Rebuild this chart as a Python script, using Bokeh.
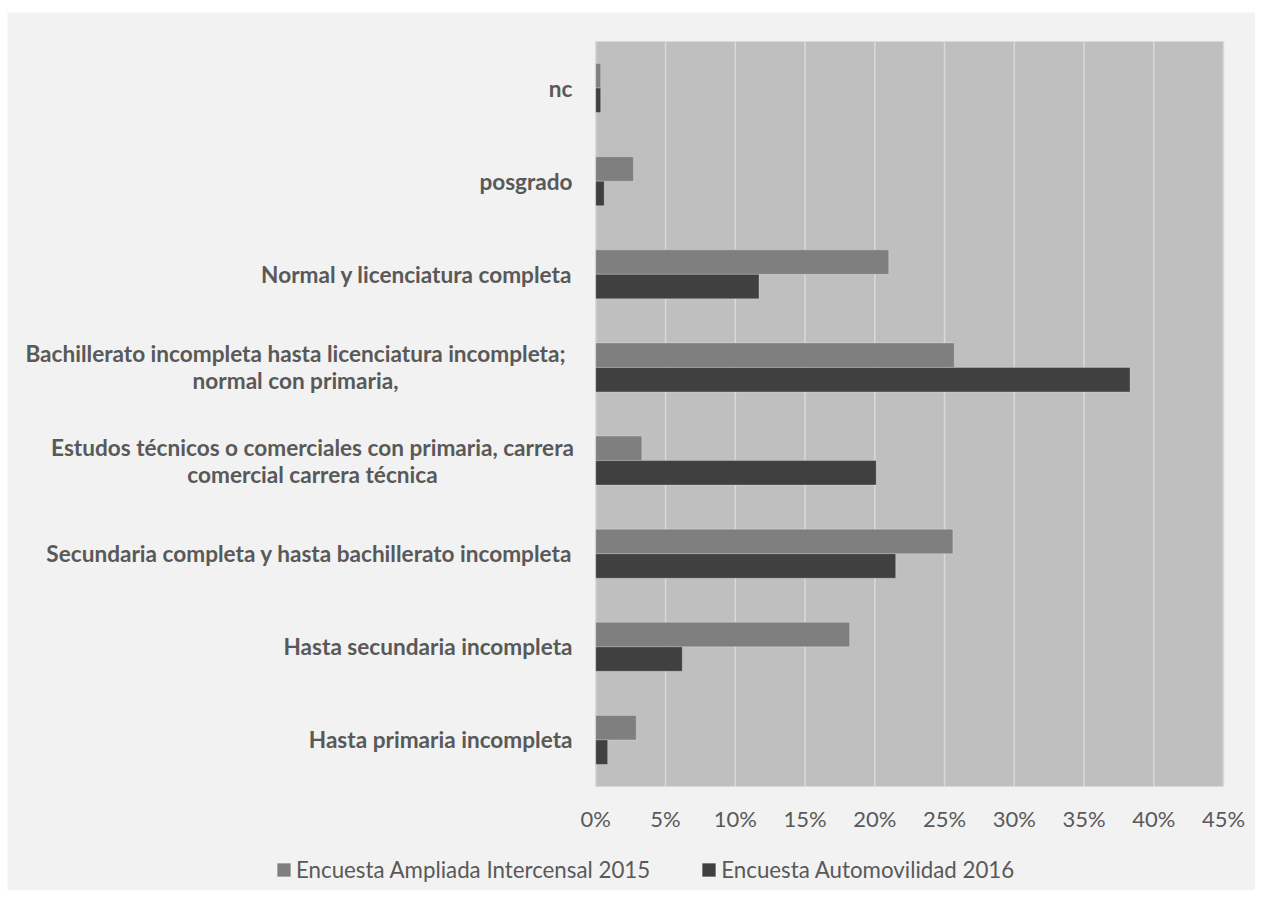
from bokeh.plotting import figure
from bokeh.models import (ColumnDataSource, Range1d, Legend, LegendItem, Spacer)
from bokeh.layouts import row, column
from bokeh.core.properties import value
from bokeh.embed import file_html
from bokeh.resources import INLINE

# ---- data (percent) ----  (bottom to top)
categories = [
    "Hasta primaria incompleta",
    "Hasta secundaria incompleta",
    "Secundaria completa y hasta bachillerato incompleta",
    "Estudos técnicos o comerciales con primaria, carrera\ncomercial carrera técnica",
    "Bachillerato incompleta hasta licenciatura incompleta;\nnormal con primaria,",
    "Normal y licenciatura completa",
    "posgrado",
    "nc",
]
intercensal_2015 = [2.9, 18.2, 25.6, 3.3, 25.7, 21.0, 2.7, 0.35]
automovilidad_2016 = [0.85, 6.2, 21.5, 20.1, 38.3, 11.7, 0.6, 0.35]
series_names = ["Encuesta Ampliada Intercensal 2015", "Encuesta Automovilidad 2016"]
x_ticks = [0, 5, 10, 15, 20, 25, 30, 35, 40, 45]
x_max = 45

FONT = "Lato"
TXT = "#595959"

# ---- layout geometry (figure pixels) ----
W, H = 1248, 878
PL, PR = 588.3, 1216.0      # plot-area left/right
PT, PB = 29.0, 774.0        # plot-area top/bottom
ppx = (PR - PL) / x_max     # pixels per percent
n = len(categories)
band = (PB - PT) / n        # pixels per category

def dx(px):                 # figure px -> data x
    return (px - PL) / ppx

def dy(py):                 # figure px (from top) -> data y
    return (n - 0.5) - (py - PT) / band

p = figure(
    width=W, height=H,
    x_range=Range1d(dx(0), dx(W)), y_range=Range1d(dy(H), dy(0)),
    output_backend="svg", toolbar_location=None,
    min_border=0, min_border_left=0, min_border_right=0,
    min_border_top=0, min_border_bottom=0,
)
p.axis.visible = False
p.grid.visible = False
p.background_fill_color = "#f2f2f2"
p.border_fill_color = "#f2f2f2"
p.outline_line_color = None

# plot area
p.quad(left=[0], right=[x_max], bottom=[-0.5], top=[n - 0.5],
       fill_color="#bfbfbf", line_color=None)
# vertical gridlines
p.segment(x0=x_ticks, x1=x_ticks, y0=[-0.5] * len(x_ticks), y1=[n - 0.5] * len(x_ticks),
          line_color="#d9d9d9", line_width=1.5)

# bars
idx = list(range(n))
bh = 0.263
src = ColumnDataSource(dict(
    y1=[i + bh / 2 for i in idx], y2=[i - bh / 2 for i in idx],
    s1=intercensal_2015, s2=automovilidad_2016))
r1 = p.hbar(y="y1", right="s1", left=0, height=bh, source=src,
            fill_color="#7f7f7f", line_color="white", line_alpha=0.25)
r2 = p.hbar(y="y2", right="s2", left=0, height=bh, source=src,
            fill_color="#404040", line_color="white", line_alpha=0.25)

# x tick labels
p.text(x=x_ticks, y=[dy(806)] * len(x_ticks), text=[f"{t}%" for t in x_ticks],
       text_font=value(FONT), text_font_size="22px", text_color=TXT,
       text_align="center", text_baseline="middle")

# category labels
single_x, single_y, single_t = [], [], []
multi_x, multi_y, multi_t = [], [], []
line_gap = 13.5 / band
# centre of each wrapped label block (figure px)
wrap_centre = {3: 305, 4: 288}
for i, c in enumerate(categories):
    lines = c.split("\n")
    if len(lines) == 1:
        single_x.append(dx(565)); single_y.append(i); single_t.append(c)
    else:
        for k, ln in enumerate(lines):
            multi_x.append(dx(wrap_centre[i]))
            multi_y.append(i + line_gap * (1 - 2 * k))
            multi_t.append(ln)

p.text(x=single_x, y=single_y, text=single_t, text_font=value(FONT),
       text_font_size="22.6px", text_font_style="bold", text_color=TXT,
       text_align="right", text_baseline="middle")
p.text(x=multi_x, y=multi_y, text=multi_t, text_font=value(FONT),
       text_font_size="22.6px", text_font_style="bold", text_color=TXT,
       text_align="center", text_baseline="middle")

legend = Legend(
    items=[LegendItem(label=series_names[0], renderers=[r1]),
           LegendItem(label=series_names[1], renderers=[r2])],
    orientation="horizontal",
    location=(268, 7),
    glyph_width=17, glyph_height=17,
    label_standoff=4, spacing=50, padding=0, margin=0,
    label_text_font=FONT, label_text_font_size="22.3px", label_text_color=TXT,
    background_fill_alpha=0, border_line_alpha=0,
)
p.add_layout(legend, "center")

layout = row(Spacer(width=7), column(Spacer(height=12), p))
layout.styles = {"background-color": "white"}

open("out.html", "w").write(file_html(layout, INLINE))
